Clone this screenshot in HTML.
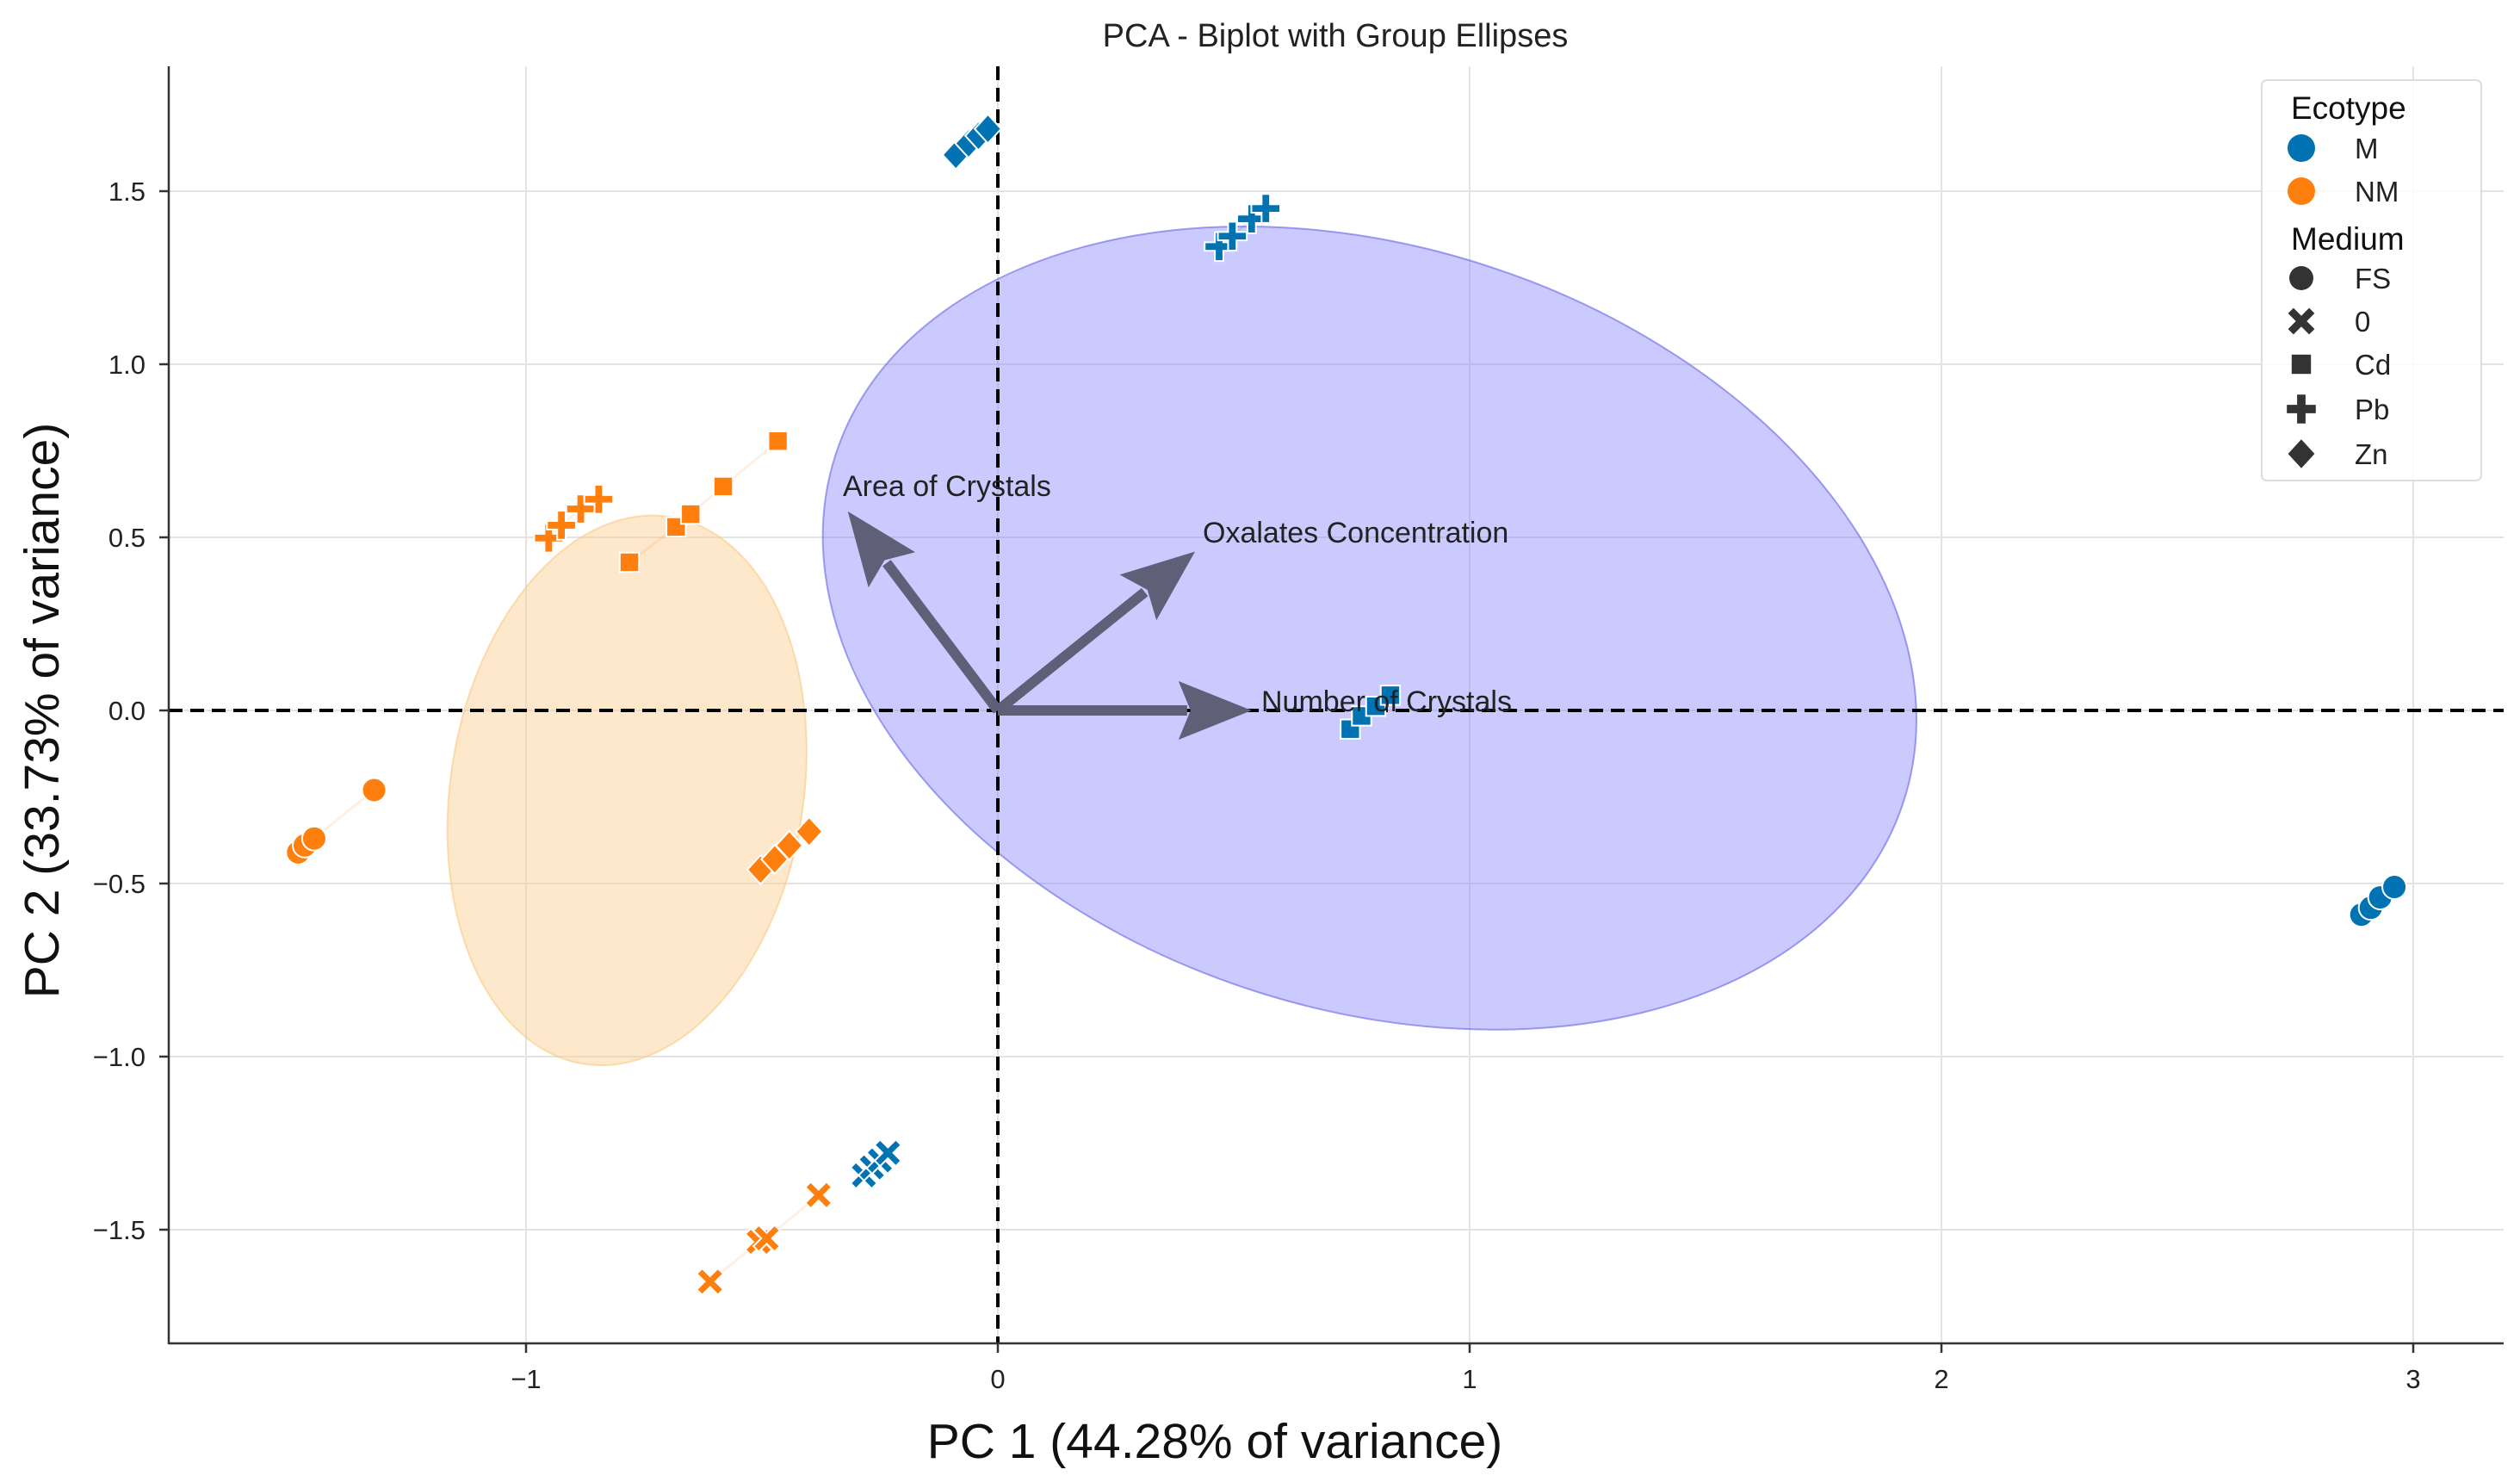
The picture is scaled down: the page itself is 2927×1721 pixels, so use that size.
<!DOCTYPE html>
<html><head><meta charset="utf-8"><style>
html,body{margin:0;padding:0;background:#fff}
svg{display:block;font-family:"Liberation Sans","DejaVu Sans",sans-serif}
</style></head><body>
<svg id="chart" width="2927" height="1721" viewBox="0 0 2927 1721">
<text x="1551" y="54" font-size="38" text-anchor="middle" fill="#222">PCA - Biplot with Group Ellipses</text>
<g id="grid"></g>
<g id="ellipses"></g>
<g id="refs"></g>
<g id="links"></g>
<g id="points"></g>
<g id="arrows"></g>
<g id="axes"></g>
<text x="1411" y="1693" font-size="57" text-anchor="middle" fill="#111">PC 1 (44.28% of variance)</text>
<text transform="translate(68,825) rotate(-90)" font-size="57" text-anchor="middle" fill="#111">PC 2 (33.73% of variance)</text>
<g id="legend"></g>
</svg>
<script>
const xTicks=[-1,0,1,2,3];
const yTicks=[1.5,1.0,0.5,0.0,-0.5,-1.0,-1.5];
const groupEcotype=["M","M","M","M","M","NM","NM","NM","NM","NM"];
const groupMedium=["Zn","Pb","Cd","FS","0","0","Zn","FS","Cd","Pb"];
const groupX=[
 [-0.089,-0.062,-0.041,-0.021],
 [0.469,0.497,0.538,0.568],
 [0.747,0.771,0.801,0.832],
 [2.89,2.91,2.93,2.96],
 [-0.284,-0.267,-0.25,-0.233],
 [-0.61,-0.507,-0.49,-0.38],
 [-0.503,-0.473,-0.442,-0.40],
 [-1.483,-1.469,-1.449,-1.322],
 [-0.781,-0.682,-0.651,-0.582,-0.466],
 [-0.952,-0.925,-0.884,-0.846]];
const groupY=[
 [1.605,1.638,1.66,1.68],
 [1.34,1.37,1.42,1.45],
 [-0.054,-0.016,0.012,0.044],
 [-0.59,-0.57,-0.54,-0.51],
 [-1.343,-1.32,-1.30,-1.278],
 [-1.65,-1.535,-1.525,-1.40],
 [-0.46,-0.43,-0.39,-0.35],
 [-0.41,-0.39,-0.37,-0.23],
 [0.428,0.53,0.567,0.647,0.778],
 [0.498,0.535,0.582,0.61]];
const loadingNames=["Area of Crystals","Oxalates Concentration","Number of Crystals"];
const loadingX=[-0.318,0.418,0.538];
const loadingY=[0.575,0.459,0.0];
const ellipseCx=[0.788,-0.786];
const ellipseCy=[0.238,-0.231];
const ellipseRx=[1.19,0.374];
const ellipseRy=[1.10,0.80];
const ellipseAngle=[18,9];

const X0=1159,XU=548,Y0=825,YU=402;
const L=196,R=2908,T=77,B=1560;
const sx=v=>X0+v*XU, sy=v=>Y0-v*YU;
const NS="http://www.w3.org/2000/svg";
function mk(tag,attrs,parent){const e=document.createElementNS(NS,tag);for(const k in attrs)e.setAttribute(k,attrs[k]);parent.appendChild(e);return e;}
const col={M:"#0173b2",NM:"#ff7f0e"};
const g=id=>document.getElementById(id);

xTicks.forEach(t=>{const l=mk("line",{x1:sx(t),x2:sx(t),y1:T,y2:B,stroke:"#e3e3e3","stroke-width":2},g("grid"));

});
yTicks.forEach(t=>{const l=mk("line",{x1:L,x2:R,y1:sy(t),y2:sy(t),stroke:"#e3e3e3","stroke-width":2},g("grid"));

});

const efill=["rgba(128,128,255,0.42)","rgba(253,205,140,0.45)"];
const estroke=["rgba(100,100,230,0.6)","rgba(250,200,130,0.6)"];
ellipseCx.forEach((c,i)=>{const e=mk("ellipse",{cx:sx(c),cy:sy(ellipseCy[i]),rx:ellipseRx[i]*XU,ry:ellipseRy[i]*YU,fill:efill[i],stroke:estroke[i],"stroke-width":2,transform:`rotate(${ellipseAngle[i]} ${sx(c)} ${sy(ellipseCy[i])})`},g("ellipses"));

});

const rv=mk("line",{x1:sx(0),x2:sx(0),y1:T,y2:B,stroke:"#000","stroke-width":4,"stroke-dasharray":"16 9"},g("refs"));


const rh=mk("line",{x1:L,x2:R,y1:sy(0),y2:sy(0),stroke:"#000","stroke-width":4,"stroke-dasharray":"16 9"},g("refs"));



function marker(shape,x,y,c,parent,s,st){
 s=s||13;st=st===undefined?"#fff":st;let e;
 if(shape==="FS") e=mk("circle",{cx:x,cy:y,r:s,fill:c,stroke:st,"stroke-width":2},parent);
 else if(shape==="Cd") e=mk("rect",{x:x-s*0.8,y:y-s*0.8,width:s*1.6,height:s*1.6,fill:c,stroke:st,"stroke-width":2},parent);
 else if(shape==="Zn") e=mk("path",{d:`M${x} ${y-s*1.2}L${x+s*1.1} ${y}L${x} ${y+s*1.2}L${x-s*1.1} ${y}Z`,fill:c,stroke:st,"stroke-width":2},parent);
 else if(shape==="Pb"){const w=s*0.35,h=s*1.2;e=mk("path",{d:`M${x-w} ${y-h}H${x+w}V${y-w}H${x+h}V${y+w}H${x+w}V${y+h}H${x-w}V${y+w}H${x-h}V${y-w}H${x-w}Z`,fill:c,stroke:st,"stroke-width":2},parent);}
 else {const a=s*0.45,h=s*1.1;e=mk("path",{d:`M${x-h} ${y-h+a}L${x-h+a} ${y-h}L${x} ${y-a}L${x+h-a} ${y-h}L${x+h} ${y-h+a}L${x+a} ${y}L${x+h} ${y+h-a}L${x+h-a} ${y+h}L${x} ${y+a}L${x-h+a} ${y+h}L${x-h} ${y+h-a}L${x-a} ${y}Z`,fill:c,stroke:st,"stroke-width":2},parent);}
 return e;}

groupX.forEach((xs,i)=>{
 const c=col[groupEcotype[i]];
 const pl=mk("polyline",{points:xs.map((v,j)=>sx(v)+","+sy(groupY[i][j])).join(" "),fill:"none",stroke:c,"stroke-opacity":0.12,"stroke-width":3},g("links"));
 
 
 xs.forEach((v,j)=>{const m=marker(groupMedium[i],sx(v),sy(groupY[i][j]),c,g("points"),14);
 
 });
});

const ac="#5f5f78";
loadingX.forEach((lx,i)=>{
 const x1=sx(0),y1=sy(0),x2=sx(lx),y2=sy(loadingY[i]);
 const dx=x2-x1,dy=y2-y1,len=Math.hypot(dx,dy),ux=dx/len,uy=dy/len,px=-uy,py=ux;
 const hl=85,hw=34;
 const bx=x2-ux*hl,by=y2-uy*hl;
 const ln=mk("line",{x1:x1,y1:y1,x2:bx+ux*10,y2:by+uy*10,stroke:ac,"stroke-width":12},g("arrows"));
 
 
 const hd=mk("path",{d:`M${x2} ${y2}L${bx+px*hw} ${by+py*hw}L${bx+ux*14} ${by+uy*14}L${bx-px*hw} ${by-py*hw}Z`,fill:ac},g("arrows"));
 
 
});
const labPos=[[979,576],[1397,630],[1465,826]];
loadingNames.forEach((n,i)=>{const t=mk("text",{x:labPos[i][0],y:labPos[i][1],"font-size":34,fill:"#222"},g("arrows"));t.textContent=n;

});

const ax=g("axes");
const sl=mk("line",{x1:L,x2:L,y1:T,y2:B+1,stroke:"#333","stroke-width":2.5},ax);


const sb=mk("line",{x1:L,x2:R,y1:B,y2:B,stroke:"#333","stroke-width":2.5},ax);


xTicks.forEach(t=>{mk("line",{x1:sx(t),x2:sx(t),y1:B,y2:B+11,stroke:"#333","stroke-width":2.5},ax);
 const tx=mk("text",{x:sx(t),y:B+52,"font-size":31,"text-anchor":"middle",fill:"#222"},ax);tx.textContent=t<0?"\u2212"+(-t):String(t);
 
 });
yTicks.forEach(t=>{mk("line",{x1:L-11,x2:L,y1:sy(t),y2:sy(t),stroke:"#333","stroke-width":2.5},ax);
 const tx=mk("text",{x:L-27,y:sy(t)+11,"font-size":31,"text-anchor":"end",fill:"#222"},ax);tx.textContent=(t<0?"\u2212":"")+Math.abs(t).toFixed(1);
 
 });

const lg=g("legend");
mk("rect",{x:2627,y:93,width:255,height:465,rx:6,fill:"rgba(255,255,255,0.85)",stroke:"#ddd","stroke-width":2},lg);
const items=[["title","Ecotype",125],["M","M",172],["NM","NM",222],["title","Medium",277],["FS","FS",323],["0","0",373],["Cd","Cd",423],["Pb","Pb",475],["Zn","Zn",527]];
items.forEach(it=>{
 if(it[0]==="title"){const t=mk("text",{x:2661,y:it[2]+13,"font-size":37,fill:"#111"},lg);t.textContent=it[1];
  
  return;}
 let m;
 if(it[0]==="M"||it[0]==="NM") m=mk("circle",{cx:2673,cy:it[2],r:16,fill:col[it[0]]},lg);
 else m=marker(it[0],2673,it[2],"#333",lg,14,"none");
 
 
 const t=mk("text",{x:2735,y:it[2]+12,"font-size":33,fill:"#222"},lg);t.textContent=it[1];
 
 
});
</script>
</body></html>
